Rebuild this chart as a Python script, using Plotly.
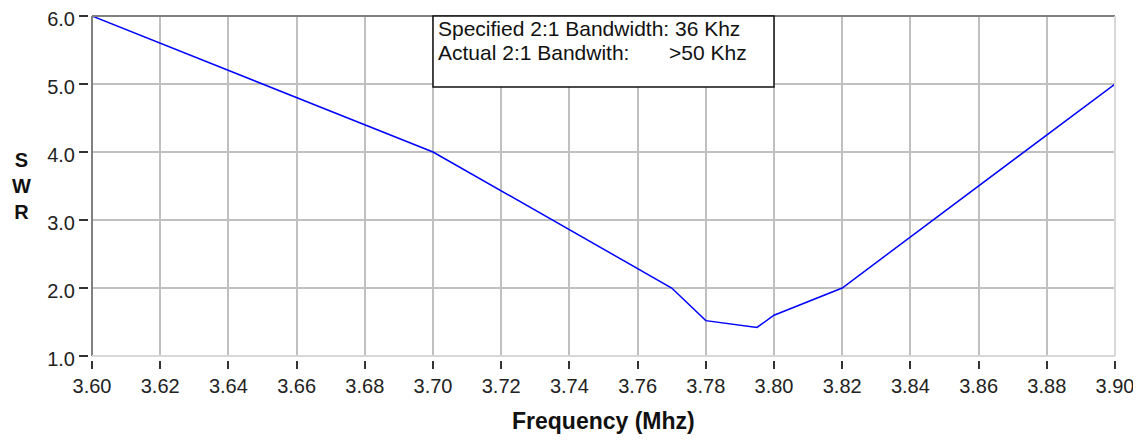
import plotly.graph_objects as go

# Data
freq = [3.60, 3.70, 3.77, 3.78, 3.795, 3.80, 3.82, 3.90]
swr = [6.0, 4.0, 2.0, 1.52, 1.42, 1.60, 2.0, 5.0]
x_ticks = [3.60, 3.62, 3.64, 3.66, 3.68, 3.70, 3.72, 3.74, 3.76, 3.78, 3.80, 3.82, 3.84, 3.86, 3.88, 3.90]
y_ticks = [1.0, 2.0, 3.0, 4.0, 5.0, 6.0]
box_line1 = "Specified 2:1 Bandwidth: 36 Khz"
box_line2a = "Actual 2:1 Bandwith:"
box_line2b = ">50 Khz"
x_title = "Frequency (Mhz)"
y_title = "S<br>W<br>R"

# page has an 8px body margin; the figure starts at (8, 8)
BODY = 8
W, H = 1141 - BODY, 441 - BODY
# paper area in page pixels
P_LEFT, P_RIGHT, P_TOP, P_BOTTOM = 60, 1115, 16, 381
PW = P_RIGHT - P_LEFT
PH = P_BOTTOM - P_TOP
ML = P_LEFT - BODY
MT = P_TOP - BODY
MR = W - (P_RIGHT - BODY)
MB = H - (P_BOTTOM - BODY)


def fy(py):
    return (P_BOTTOM - py) / PH


def fx(px):
    return (px - P_LEFT) / PW


plot_left, plot_bottom = 92, 356
xdom = [fx(plot_left), 1.0]
ydom = [fy(plot_bottom), 1.0]

FONT = "Liberation Sans, Arial, sans-serif"

fig = go.Figure()
fig.add_trace(go.Scatter(x=freq, y=swr, mode="lines",
                         line=dict(color="#0000ff", width=1.5),
                         showlegend=False, hoverinfo="skip"))
fig.add_trace(go.Scatter(x=[x_ticks[0]], y=[y_ticks[0]], xaxis="x2", yaxis="y2",
                         mode="markers", marker=dict(opacity=0),
                         showlegend=False, hoverinfo="skip"))

grid_color = "#c0c0c0"
fig.update_layout(
    width=W, height=H,
    margin=dict(l=ML, r=MR, t=MT, b=MB, autoexpand=False),
    paper_bgcolor="white", plot_bgcolor="white",
    font=dict(family=FONT, size=20, color="#222222"),
    xaxis=dict(domain=xdom, range=[x_ticks[0], x_ticks[-1]], tickvals=x_ticks,
               showticklabels=False, ticks="", showgrid=True, gridcolor=grid_color,
               gridwidth=1.5, zeroline=False, showline=False, fixedrange=True,
               automargin=False),
    yaxis=dict(domain=ydom, range=[y_ticks[0], y_ticks[-1]], tickvals=y_ticks,
               showticklabels=False, ticks="", showgrid=True, gridcolor=grid_color,
               gridwidth=1.5, zeroline=False, showline=False, fixedrange=True,
               automargin=False),
    xaxis2=dict(domain=xdom, range=[x_ticks[0], x_ticks[-1]], overlaying="x",
                anchor="free", position=fy(360), side="bottom",
                tickvals=x_ticks, ticktext=[f"{v:.2f}" for v in x_ticks],
                ticks="outside", ticklen=8, tickwidth=2, tickcolor="#333333",
                showgrid=False, zeroline=False, showline=False, automargin=False,
                ticklabeloverflow="allow",
                tickfont=dict(family=FONT, size=20, color="#222222")),
    yaxis2=dict(domain=ydom, range=[y_ticks[0], y_ticks[-1]], overlaying="y",
                anchor="free", position=fx(88), side="left",
                tickvals=y_ticks, ticktext=[f"{v:.1f}" for v in y_ticks],
                ticks="outside", ticklen=9, tickwidth=2, tickcolor="#333333",
                showgrid=False, zeroline=False, showline=False, automargin=False,
                ticklabeloverflow="allow", ticklabelshift=3,
                tickfont=dict(family=FONT, size=20, color="#222222")),
)

shapes = []
# sunken frame: dark top/left, light bottom/right
shapes.append(dict(type="line", xref="x domain", yref="y domain", x0=0, x1=1, y0=1, y1=1,
                   line=dict(color="#808080", width=2), layer="above"))
shapes.append(dict(type="line", xref="x domain", yref="y domain", x0=0, x1=0, y0=0, y1=1,
                   line=dict(color="#808080", width=2), layer="above"))
shapes.append(dict(type="line", xref="x domain", yref="y domain", x0=0, x1=1, y0=0, y1=0,
                   line=dict(color="#d8d8d8", width=2), layer="above"))
shapes.append(dict(type="line", xref="x domain", yref="y domain", x0=1, x1=1, y0=0, y1=1,
                   line=dict(color="#d8d8d8", width=2), layer="above"))
# info box
shapes.append(dict(type="rect", xref="x", yref="paper", x0=3.70, x1=3.80,
                   y0=fy(87), y1=fy(16),
                   fillcolor="white", line=dict(color="#111111", width=1.5), layer="above"))
fig.update_layout(shapes=shapes)

BOX_FONT = dict(family=FONT, size=21, color="#111111")
ann = []
ann.append(dict(xref="x", yref="paper", x=3.70, xshift=3, y=fy(29),
                text=box_line1, showarrow=False, xanchor="left", yanchor="middle",
                font=BOX_FONT))
ann.append(dict(xref="x", yref="paper", x=3.70, xshift=3, y=fy(52),
                text=box_line2a, showarrow=False, xanchor="left", yanchor="middle",
                font=BOX_FONT))
ann.append(dict(xref="paper", yref="paper", x=fx(667), y=fy(52),
                text=box_line2b, showarrow=False, xanchor="left", yanchor="middle",
                font=BOX_FONT))
ann.append(dict(xref="x", yref="paper", x=(x_ticks[0] + x_ticks[-1]) / 2, y=fy(421),
                text=f"<b>{x_title}</b>", showarrow=False, xanchor="center", yanchor="middle",
                font=dict(family=FONT, size=23, color="#111111")))
ann.append(dict(xref="paper", yref="paper", x=fx(21), y=fy(186),
                text=f"<b>{y_title}</b>", showarrow=False, xanchor="center", yanchor="middle",
                font=dict(family=FONT, size=20, color="#111111")))
fig.update_layout(annotations=ann)

fig.write_html("out.html")
